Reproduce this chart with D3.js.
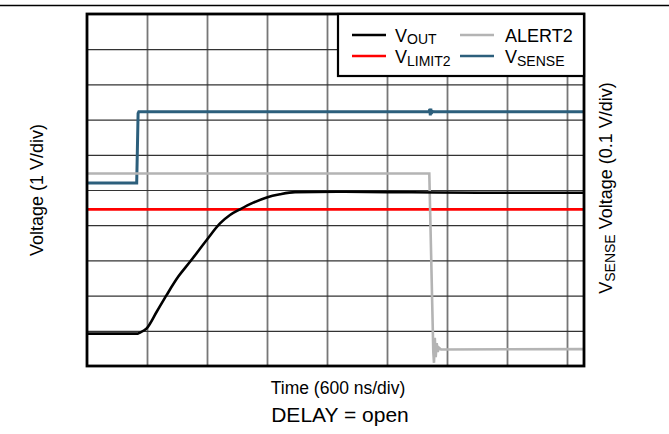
<!DOCTYPE html>
<html><head><meta charset="utf-8">
<script src="https://cdn.jsdelivr.net/npm/d3@7"></script>
<style>body{margin:0;background:#fff}svg{display:block;font-family:"Liberation Sans",Arial,sans-serif}</style>
</head><body><svg id="c" width="669" height="434"></svg>
<script>
// time in ns, voltage traces in divisions of the left axis (1 V/div), VSENSE in V (0.1 V/div)
const xTicks = [600,1200,1800,2400,3000,3600,4200,4800];
const yTicks = [1,2,3,4,5,6,7,8,9];
const voutT = [0,505,530,597,697,797,913,1030,1197,1330,1430,1530,1663,1797,1930,2080,2500,3000,3500,4000,4970];
const voutV = [0.92,0.92,0.95,1.07,1.54,2.02,2.54,2.96,3.58,4.05,4.29,4.45,4.64,4.79,4.88,4.94,4.95,4.94,4.93,4.92,4.92];
const alertT = [0,3423,3463,3470,3478,3487,3497,3507,3520,3540,4970];
const alertV = [5.47,5.47,0.4,0.09,0.8,0.25,0.65,0.4,0.52,0.47,0.48];
const limitT = [0,4970];
const limitV = [4.45,4.45];
const senseT = [0,497,511,518,3420,3428,3433,3438,3443,3450,3470,4970];
const senseV = [0.52,0.52,0.718,0.722,0.722,0.73,0.712,0.731,0.716,0.724,0.722,0.722];

const svg = d3.select("#c");
const L=87,R=584,T=14,B=366;
const x = d3.scaleLinear().domain([0,4970]).range([L,R]);
const y = d3.scaleLinear().domain([0,10]).range([B,T]);
const yR = d3.scaleLinear().domain([0,1]).range([B,T]);

svg.append("line").attr("x1",0).attr("x2",669).attr("y1",5.5).attr("y2",5.5).attr("stroke","#000").attr("stroke-width",1.3);

// grid via axes
const gx = svg.append("g").attr("transform",`translate(0,${B})`)
  .call(d3.axisBottom(x).tickValues(xTicks).tickSize(-(B-T)).tickFormat(""));
gx.select(".domain").remove();
gx.selectAll("line").attr("stroke","#777").attr("stroke-width",1.8);
const gy = svg.append("g").attr("transform",`translate(${L},0)`)
  .call(d3.axisLeft(y).tickValues(yTicks).tickSize(-(R-L)).tickFormat(""));
gy.select(".domain").remove();
gy.selectAll("line").attr("stroke","#333").attr("stroke-width",1.2);

const line = (ts,vs,sc,curve)=>d3.line().curve(curve||d3.curveLinear).x((d,i)=>x(ts[i])).y(d=>sc(d))(vs);
svg.append("path").attr("d",line(limitT,limitV,y)).attr("fill","none").attr("stroke","#ff0000").attr("stroke-width",2.8);
svg.append("path").attr("d",line(senseT,senseV,yR)).attr("fill","none").attr("stroke","#2c5f7c").attr("stroke-width",3);
svg.append("path").attr("d",line(alertT,alertV,y)).attr("fill","none").attr("stroke","#b4b4b4").attr("stroke-width",2.6);
svg.append("path").attr("d",line(voutT,voutV,y,d3.curveMonotoneX)).attr("fill","none").attr("stroke","#000").attr("stroke-width",2.6);

// frame
svg.append("rect").attr("x",L).attr("y",T).attr("width",R-L).attr("height",B-T)
  .attr("fill","none").attr("stroke","#000").attr("stroke-width",2.8);

// legend
const lg = svg.append("g");
lg.append("rect").attr("x",338).attr("y",T).attr("width",R-338).attr("height",62)
  .attr("fill","#fff").attr("stroke","#000").attr("stroke-width",2.2);
const items = [
  {main:"V",sub:"OUT",c:"#000",lx:352,tx:395,ly:35,ty:41.5},
  {main:"ALERT2",sub:"",c:"#b4b4b4",lx:460,tx:505,ly:35,ty:41.5},
  {main:"V",sub:"LIMIT2",c:"#ff0000",lx:352,tx:395,ly:56,ty:63},
  {main:"V",sub:"SENSE",c:"#2c5f7c",lx:460,tx:505,ly:56,ty:63}
];
items.forEach(it=>{
  lg.append("line").attr("x1",it.lx).attr("x2",it.lx+34).attr("y1",it.ly).attr("y2",it.ly)
    .attr("stroke",it.c).attr("stroke-width",2.6);
  const t = lg.append("text").attr("x",it.tx).attr("y",it.ty).attr("font-size",18).attr("fill","#000");
  t.append("tspan").text(it.main);
  if(it.sub) t.append("tspan").attr("font-size",14).attr("dy",2.5).text(it.sub);
});

// axis titles
svg.append("text").attr("x",338).attr("y",393.5).attr("text-anchor","middle").attr("font-size",17.5).text("Time (600 ns/div)");
svg.append("text").attr("x",340).attr("y",422).attr("text-anchor","middle").attr("font-size",21).text("DELAY = open");
svg.append("text").attr("transform","translate(43,190) rotate(-90)").attr("text-anchor","middle").attr("font-size",18).text("Voltage (1 V/div)");
const rt = svg.append("text").attr("transform","translate(612,188) rotate(-90)").attr("text-anchor","middle").attr("font-size",18);
rt.append("tspan").text("V");
rt.append("tspan").attr("font-size",14).attr("dy",2.5).text("SENSE");
rt.append("tspan").attr("dy",-2.5).text(" Voltage (0.1 V/div)");
</script></body></html>
